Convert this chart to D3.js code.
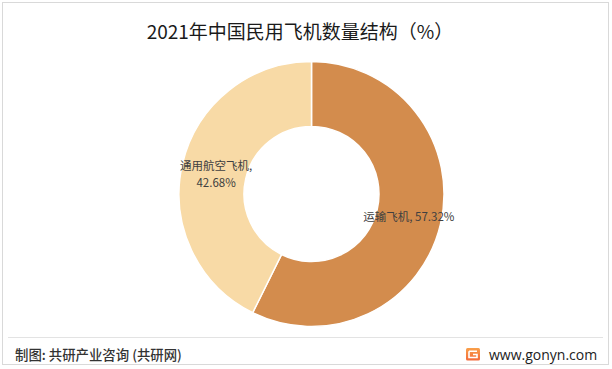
<!DOCTYPE html>
<html>
<head>
<meta charset="utf-8">
<script src="https://cdn.jsdelivr.net/npm/d3@7"></script>
<style>
html,body{margin:0;padding:0;background:#fff;}
svg{display:block;font-family:"Noto Sans CJK SC","Noto Sans",sans-serif;}
</style>
</head>
<body>
<svg id="chart" width="612" height="369"></svg>
<script>
const title = "2021年中国民用飞机数量结构（%）";
const categories = ["运输飞机", "通用航空飞机"];
const values = [57.32, 42.68];
const colors = ["#D38C4D", "#F8DAA6"];
const source = "制图: 共研产业咨询 (共研网)";
const site = "www.gonyn.com";

const svg = d3.select("#chart");

// outer frame
svg.append("rect").attr("x", 2.5).attr("y", 2.5).attr("width", 606).attr("height", 362)
  .attr("fill", "#fff").attr("stroke", "#d9d9d9").attr("stroke-width", 1);

// title
svg.append("text").attr("x", 300).attr("y", 39).attr("text-anchor", "middle")
  .attr("font-size", 19).attr("fill", "#1a1a1a").text(title);

const cx = 311.5, cy = 194, rOuter = 132.5, rInner = 67.5;
const data = categories.map((c, i) => ({ name: c, value: values[i], color: colors[i] }));
const pie = d3.pie().value(d => d.value).sort(null);
const arc = d3.arc().innerRadius(rInner).outerRadius(rOuter);
const g = svg.append("g").attr("transform", `translate(${cx},${cy})`);
const arcs = pie(data);
g.selectAll("path").data(arcs).join("path")
  .attr("d", arc).attr("fill", d => d.data.color)
  .attr("stroke", "#fff").attr("stroke-width", 1.5);

// labels
const labelArc = d3.arc().innerRadius((rInner + rOuter) / 2).outerRadius((rInner + rOuter) / 2);
const fmt = v => v.toFixed(2) + "%";
arcs.forEach((a, i) => {
  const [lx, ly] = labelArc.centroid(a);
  const t = g.append("text").attr("text-anchor", "middle").attr("font-size", 11.5).attr("fill", "#404040");
  if (i === 0) {
    t.attr("x", lx).attr("y", ly + 4).text(a.data.name + ", " + fmt(a.data.value));
  } else {
    t.append("tspan").attr("x", lx + 2).attr("y", ly - 1).text(a.data.name + ",");
    t.append("tspan").attr("x", lx + 2).attr("y", ly + 16).text(fmt(a.data.value));
  }
});

// footer separator
svg.append("line").attr("x1", 8).attr("x2", 603).attr("y1", 337.5).attr("y2", 337.5)
  .attr("stroke", "#e3e3e3").attr("stroke-width", 1);

svg.append("text").attr("x", 15).attr("y", 360).attr("font-size", 13.4).attr("fill", "#333")
  .attr("font-weight", 500).text(source);

// logo
const defs = svg.append("defs");
const grad = defs.append("linearGradient").attr("id", "lg").attr("x1", 0).attr("y1", 0).attr("x2", 0).attr("y2", 1);
grad.append("stop").attr("offset", 0).attr("stop-color", "#f9a04a");
grad.append("stop").attr("offset", 1).attr("stop-color", "#f36a3a");
const logo = svg.append("g").attr("transform", "translate(466,348)");
logo.append("rect").attr("width", 14).attr("height", 12.5).attr("rx", 1.5).attr("fill", "url(#lg)");
logo.append("path").attr("d", "M3,3.3 H11 M3,3.3 V9.5 H11 V6.5 H7").attr("fill", "none")
  .attr("stroke", "#fff").attr("stroke-width", 1.6);

svg.append("text").attr("x", 489).attr("y", 359.5).attr("font-size", 14).attr("fill", "#222")
  .attr("font-family", "'Open Sans','Noto Sans',sans-serif").text(site);
</script>
</body>
</html>
